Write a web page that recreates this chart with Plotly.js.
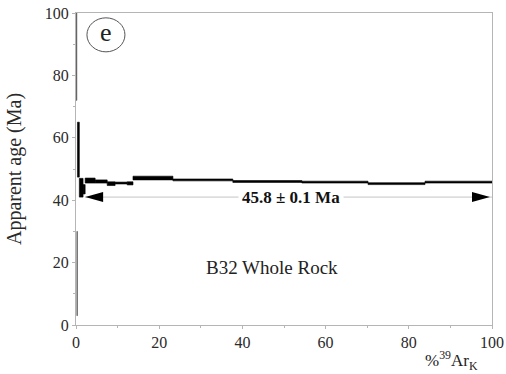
<!DOCTYPE html>
<html>
<head>
<meta charset="utf-8">
<script src="https://cdn.plot.ly/plotly-3.0.1.min.js"></script>
<style>
  html, body { margin: 0; padding: 0; background: #fff; }
  #chart { width: 506px; height: 374px; }
</style>
</head>
<body>
<div id="chart"></div>
<script>
// Step-heating 40Ar/39Ar age spectrum, sample B32 whole rock.
// Cumulative %39ArK edges of each heating step (n steps -> n+1 edges)
const cumEdges = [0, 0.2, 0.35, 0.8, 1.7, 2.2, 4.6, 7.5, 9.4, 12.3, 13.7, 23.3, 37.7, 54.3, 70.2, 83.9, 100];
// Apparent age (Ma) of each step and its 2-sigma half-height
const stepAges   = [88, 16.5, 56.2, 44.0, 43.5, 46.3, 46.0, 45.3, 45.5, 45.4, 47.1, 46.5, 46.0, 45.8, 45.3, 45.8];
const stepErrors = [16, 13.5, 8.8, 3.0, 1.5, 0.8, 0.5, 0.6, 0.3, 0.5, 0.6, 0.3, 0.3, 0.3, 0.3, 0.3];
// Low-temperature steps drawn in grey
const greySteps = 2;

// Plateau
const plateauStart = 2.2;
const plateauEnd = 100;
const plateauAge = 45.8;
const plateauErr = 0.1;
const plateauArrowAge = 41;

const sampleLabel = 'B32 Whole Rock';
const panelLetter = 'e';

const xTicks = [0, 20, 40, 60, 80, 100];
const yTicks = [0, 20, 40, 60, 80, 100];

const serif = '"Liberation Serif", "Times New Roman", serif';

// Steps as floating bars: base = age - err, height = 2 * err
const mids = [], widths = [], bases = [], heights = [], colors = [];
for (let i = 0; i < stepAges.length; i++) {
  mids.push((cumEdges[i] + cumEdges[i + 1]) / 2);
  widths.push(cumEdges[i + 1] - cumEdges[i]);
  bases.push(stepAges[i] - stepErrors[i]);
  heights.push(2 * stepErrors[i]);
  colors.push(i < greySteps ? '#5a5a5a' : '#000000');
}

const steps = {
  type: 'bar',
  x: mids,
  y: heights,
  base: bases,
  width: widths,
  marker: { color: colors, line: { color: colors, width: 0.6 } },
  hoverinfo: 'skip'
};

const axisCommon = {
  showgrid: false,
  zeroline: false,
  showline: true,
  linecolor: '#b5b5b5',
  linewidth: 1,
  mirror: true,
  ticks: 'outside',
  ticklen: 3,
  tickcolor: '#b5b5b5',
  tickfont: { family: serif, size: 16, color: '#2a2a2a' },
  minor: { dtick: 10, ticks: 'outside', ticklen: 2, tickcolor: '#b5b5b5' }
};

const layout = {
  width: 506,
  height: 374,
  margin: { l: 76, r: 14, t: 13, b: 49 },
  paper_bgcolor: '#ffffff',
  plot_bgcolor: '#ffffff',
  showlegend: false,
  barmode: 'overlay',
  xaxis: Object.assign({}, axisCommon, {
    range: [0, 100],
    tickvals: xTicks,
    ticktext: xTicks.map(String)
  }),
  yaxis: Object.assign({}, axisCommon, {
    range: [0, 100],
    tickvals: yTicks,
    ticktext: yTicks.map(String),
    title: { text: 'Apparent age (Ma)', font: { family: serif, size: 20, color: '#2a2a2a' }, standoff: 17 }
  }),
  shapes: [
    // plateau arrow shaft
    { type: 'line', xref: 'x', yref: 'y', x0: plateauStart, x1: plateauEnd, y0: plateauArrowAge, y1: plateauArrowAge,
      line: { color: '#c4c4c4', width: 1 } },
    // arrowheads
    { type: 'path', xref: 'x', yref: 'y', xsizemode: 'pixel', ysizemode: 'pixel',
      xanchor: plateauStart, yanchor: plateauArrowAge,
      path: 'M0,0 L18,5 L18,-5 Z', fillcolor: '#000', line: { width: 0 } },
    { type: 'path', xref: 'x', yref: 'y', xsizemode: 'pixel', ysizemode: 'pixel',
      xanchor: plateauEnd, yanchor: plateauArrowAge,
      path: 'M-2,0 L-20,5 L-20,-5 Z', fillcolor: '#000', line: { width: 0 } },
    // panel letter ring
    { type: 'circle', xref: 'x', yref: 'y', xsizemode: 'pixel', ysizemode: 'pixel',
      xanchor: 7.2, yanchor: 93, x0: -19, x1: 19, y0: -17, y1: 17,
      line: { color: '#555', width: 1 } }
  ],
  annotations: [
    { xref: 'x', yref: 'y', x: 7.2, y: 93, text: panelLetter, showarrow: false,
      font: { family: serif, size: 26, color: '#222' }, yshift: 2 },
    { xref: 'x', yref: 'y', x: 51.7, y: plateauArrowAge,
      text: '<b>' + plateauAge.toFixed(1) + ' ± ' + plateauErr.toFixed(1) + ' Ma</b>',
      showarrow: false, bgcolor: '#ffffff', borderpad: 3,
      font: { family: serif, size: 17, color: '#111' } },
    { xref: 'x', yref: 'y', x: 47.1, y: 18.3, text: sampleLabel, showarrow: false,
      font: { family: serif, size: 19, color: '#222' } },
    { xref: 'paper', yref: 'paper', x: 1, y: 0, xanchor: 'right', yanchor: 'top', yshift: -21, xshift: -12,
      text: '%<sup>39</sup>Ar<sub>K</sub>', showarrow: false,
      font: { family: serif, size: 17, color: '#222' } }
  ]
};

Plotly.newPlot('chart', [steps], layout, { staticPlot: true, displayModeBar: false });
</script>
</body>
</html>
